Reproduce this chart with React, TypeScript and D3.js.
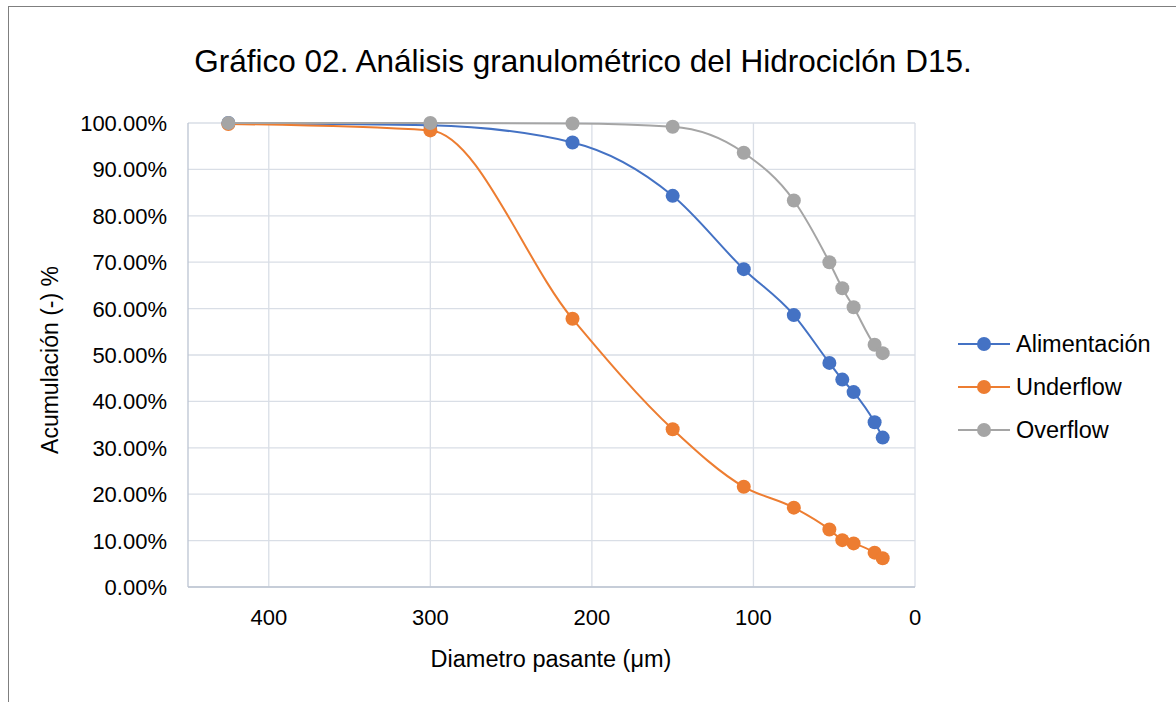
import React from "react";
import * as d3 from "d3";

const sizes = [425, 300, 212, 150, 106, 75, 53, 45, 38, 25, 20];
const alimentacion = [100.0, 99.5, 95.8, 84.3, 68.5, 58.6, 48.3, 44.7, 42.0, 35.5, 32.2];
const underflow = [99.8, 98.4, 57.8, 34.0, 21.6, 17.1, 12.4, 10.1, 9.4, 7.4, 6.2];
const overflow = [100.0, 100.0, 99.9, 99.2, 93.6, 83.3, 70.0, 64.4, 60.3, 52.2, 50.4];
const seriesNames = ["Alimentación", "Underflow", "Overflow"];
const seriesColors = ["#4472C4", "#ED7D31", "#A5A5A5"];
const xTicks = [400, 300, 200, 100, 0];
const yTicks = [0, 10, 20, 30, 40, 50, 60, 70, 80, 90, 100];

const W = 1176;
const H = 702;
const L = 188, R = 915, T = 123, B = 587;
const FONT = "'Liberation Sans', Arial, sans-serif";

export default function App() {
  const x = d3.scaleLinear().domain([450, 0]).range([L, R]);
  const y = d3.scaleLinear().domain([0, 100]).range([B, T]);
  const all = [alimentacion, underflow, overflow];
  const line = d3
    .line<[number, number]>()
    .x((d) => x(d[0]))
    .y((d) => y(d[1]))
    .curve(d3.curveMonotoneX);

  return (
    <svg
      width={W}
      height={H}
      style={{ position: "absolute", left: 0, top: 0, background: "#fff" }}
      fontFamily={FONT}
    >
      <rect x={0} y={0} width={W} height={H} fill="#fff" />
      <rect x={8.5} y={6.5} width={1300} height={800} fill="none" stroke="#7f7f7f" strokeWidth={1} />
      <text x={583} y={72} textAnchor="middle" fontSize={31.5} fill="#000">
        Gráfico 02. Análisis granulométrico del Hidrociclón D15.
      </text>
      {yTicks.map((t) => (
        <line key={"gy" + t} x1={L} x2={R} y1={y(t)} y2={y(t)} stroke="#D9DEE6" strokeWidth={1.3} />
      ))}
      {xTicks.map((t) => (
        <line key={"gx" + t} x1={x(t)} x2={x(t)} y1={T} y2={B} stroke="#D9DEE6" strokeWidth={1.3} />
      ))}
      <line x1={L} x2={L} y1={T} y2={B} stroke="#BCC4D2" strokeWidth={1.3} />
      <line x1={L} x2={R} y1={B} y2={B} stroke="#BCC4D2" strokeWidth={1.3} />
      {yTicks.map((t) => (
        <text key={"ty" + t} x={167} y={y(t) + 8} textAnchor="end" fontSize={22} fill="#000">
          {t.toFixed(2) + "%"}
        </text>
      ))}
      {xTicks.map((t) => (
        <text key={"tx" + t} x={x(t)} y={625} textAnchor="middle" fontSize={22} fill="#000">
          {t}
        </text>
      ))}
      <text x={551} y={667} textAnchor="middle" fontSize={23.5} fill="#000">
        Diametro pasante (μm)
      </text>
      <text
        transform={`translate(58,360) rotate(-90)`}
        textAnchor="middle"
        fontSize={23}
        fill="#000"
      >
        Acumulación (-) %
      </text>
      {all.map((vals, si) => {
        const pts = sizes.map((s, i) => [s, vals[i]] as [number, number]);
        return (
          <g key={"s" + si}>
            <path d={line(pts) || ""} fill="none" stroke={seriesColors[si]} strokeWidth={2} />
            {pts.map((p, i) => (
              <circle key={i} cx={x(p[0])} cy={y(p[1])} r={7} fill={seriesColors[si]} />
            ))}
          </g>
        );
      })}
      {seriesNames.map((n, i) => {
        const ly = 344 + i * 43;
        return (
          <g key={"lg" + i}>
            <line x1={958} x2={1010} y1={ly} y2={ly} stroke={seriesColors[i]} strokeWidth={2} />
            <circle cx={984} cy={ly} r={7} fill={seriesColors[i]} />
            <text x={1016} y={ly + 8} fontSize={23.5} fill="#000">
              {n}
            </text>
          </g>
        );
      })}
    </svg>
  );
}
